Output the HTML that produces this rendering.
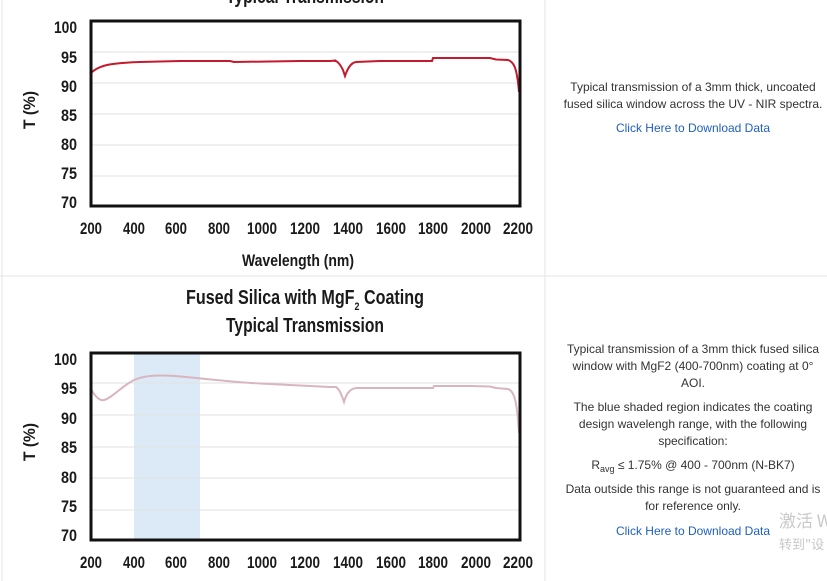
<!DOCTYPE html>
<html><head><meta charset="utf-8"><style>
html,body{margin:0;padding:0;background:#fff;}
svg{display:block}
.c{font-family:"Liberation Sans",sans-serif;font-weight:bold;fill:#1a1a1a}
.t{font-family:"Liberation Sans",sans-serif;font-size:12px;fill:#333}
.l{font-family:"Liberation Sans",sans-serif;font-size:12px;fill:#1f5fbf}
</style></head><body>
<svg width="827" height="581" viewBox="0 0 827 581" xmlns="http://www.w3.org/2000/svg">
<rect width="827" height="581" fill="#fff"/>
<line x1="2" y1="0" x2="2" y2="581" stroke="#e4e4e4"/>
<line x1="545" y1="0" x2="545" y2="581" stroke="#e4e4e4"/>
<line x1="0" y1="276" x2="827" y2="276" stroke="#e4e4e4"/>

<!-- Chart 1 -->
<text class="c" x="226" y="3" font-size="20" textLength="158" lengthAdjust="spacingAndGlyphs">Typical Transmission</text>
<g stroke="#e2e2e2" stroke-width="1">
<line x1="90" x2="520" y1="52" y2="52"/><line x1="90" x2="520" y1="83" y2="83"/>
<line x1="90" x2="520" y1="114" y2="114"/><line x1="90" x2="520" y1="145" y2="145"/>
<line x1="90" x2="520" y1="176" y2="176"/>
</g>
<path d="M91,73 C100,64 115,63 140,62 L180,61 L230,61 L234,62 L300,61 L330,61 L336,60.5 L334,61 L336,61 C338,62 340,64 343,70 L345,76 C347,70 350,63 356,62 L380,61 L432,61 L433,58 L470,58 L490,58 L496,59.5 L508,60 C514,62 517,68 519,92" fill="none" stroke="#c41a2e" stroke-width="2"/>
<rect x="91" y="21" width="429" height="185" fill="none" stroke="#111" stroke-width="3"/>
<g class="c" font-size="17">
<text x="54" y="33" textLength="23" lengthAdjust="spacingAndGlyphs">100</text>
<text x="61" y="63" textLength="16" lengthAdjust="spacingAndGlyphs">95</text>
<text x="61" y="92" textLength="16" lengthAdjust="spacingAndGlyphs">90</text>
<text x="61" y="121" textLength="16" lengthAdjust="spacingAndGlyphs">85</text>
<text x="61" y="150" textLength="16" lengthAdjust="spacingAndGlyphs">80</text>
<text x="61" y="179" textLength="16" lengthAdjust="spacingAndGlyphs">75</text>
<text x="61" y="208" textLength="16" lengthAdjust="spacingAndGlyphs">70</text>
</g>
<g class="c" font-size="17">
<text x="80" y="234" textLength="22" lengthAdjust="spacingAndGlyphs">200</text>
<text x="123" y="234" textLength="22" lengthAdjust="spacingAndGlyphs">400</text>
<text x="165" y="234" textLength="22" lengthAdjust="spacingAndGlyphs">600</text>
<text x="208" y="234" textLength="22" lengthAdjust="spacingAndGlyphs">800</text>
<text x="247" y="234" textLength="30" lengthAdjust="spacingAndGlyphs">1000</text>
<text x="290" y="234" textLength="30" lengthAdjust="spacingAndGlyphs">1200</text>
<text x="333" y="234" textLength="30" lengthAdjust="spacingAndGlyphs">1400</text>
<text x="376" y="234" textLength="30" lengthAdjust="spacingAndGlyphs">1600</text>
<text x="418" y="234" textLength="30" lengthAdjust="spacingAndGlyphs">1800</text>
<text x="461" y="234" textLength="30" lengthAdjust="spacingAndGlyphs">2000</text>
<text x="503" y="234" textLength="30" lengthAdjust="spacingAndGlyphs">2200</text>
</g>
<text class="c" x="242" y="266" font-size="17" textLength="112" lengthAdjust="spacingAndGlyphs">Wavelength (nm)</text>
<text class="c" font-size="17" transform="translate(35,129) rotate(-90)" textLength="38" lengthAdjust="spacingAndGlyphs">T (%)</text>

<!-- Chart 2 -->
<text class="c" x="186" y="304" font-size="20" textLength="238" lengthAdjust="spacingAndGlyphs">Fused Silica with MgF<tspan font-size="11" dy="6">2</tspan><tspan dy="-6"> Coating</tspan></text>
<text class="c" x="226" y="332" font-size="20" textLength="158" lengthAdjust="spacingAndGlyphs">Typical Transmission</text>
<rect x="134" y="353" width="66" height="187" fill="#dce9f6"/>
<g stroke="#e2e2e2" stroke-width="1">
<line x1="90" x2="520" y1="383" y2="383"/><line x1="90" x2="520" y1="415" y2="415"/>
<line x1="90" x2="520" y1="447" y2="447"/><line x1="90" x2="520" y1="478" y2="478"/>
<line x1="90" x2="520" y1="510" y2="510"/>
</g>
<path d="M91,389 C96,398 100,401 104,400 C112,398 122,386 134,380 C145,375 160,375 175,376 C200,378 230,382 260,383.5 C290,385 310,386 330,387 L336,387 C339,389 341,393 344,402 C346,395 349,389 356,388 L433,388 L434,386 L470,386 L490,386.5 L496,388 L508,389 C514,391 517,400 519,433" fill="none" stroke="#d9b5be" stroke-width="2"/>
<rect x="91" y="353" width="429" height="187" fill="none" stroke="#111" stroke-width="3"/>
<g class="c" font-size="17">
<text x="54" y="365" textLength="23" lengthAdjust="spacingAndGlyphs">100</text>
<text x="61" y="394" textLength="16" lengthAdjust="spacingAndGlyphs">95</text>
<text x="61" y="424" textLength="16" lengthAdjust="spacingAndGlyphs">90</text>
<text x="61" y="453" textLength="16" lengthAdjust="spacingAndGlyphs">85</text>
<text x="61" y="483" textLength="16" lengthAdjust="spacingAndGlyphs">80</text>
<text x="61" y="512" textLength="16" lengthAdjust="spacingAndGlyphs">75</text>
<text x="61" y="541" textLength="16" lengthAdjust="spacingAndGlyphs">70</text>
</g>
<g class="c" font-size="17">
<text x="80" y="568" textLength="22" lengthAdjust="spacingAndGlyphs">200</text>
<text x="123" y="568" textLength="22" lengthAdjust="spacingAndGlyphs">400</text>
<text x="165" y="568" textLength="22" lengthAdjust="spacingAndGlyphs">600</text>
<text x="208" y="568" textLength="22" lengthAdjust="spacingAndGlyphs">800</text>
<text x="247" y="568" textLength="30" lengthAdjust="spacingAndGlyphs">1000</text>
<text x="290" y="568" textLength="30" lengthAdjust="spacingAndGlyphs">1200</text>
<text x="333" y="568" textLength="30" lengthAdjust="spacingAndGlyphs">1400</text>
<text x="376" y="568" textLength="30" lengthAdjust="spacingAndGlyphs">1600</text>
<text x="418" y="568" textLength="30" lengthAdjust="spacingAndGlyphs">1800</text>
<text x="461" y="568" textLength="30" lengthAdjust="spacingAndGlyphs">2000</text>
<text x="503" y="568" textLength="30" lengthAdjust="spacingAndGlyphs">2200</text>
</g>
<text class="c" font-size="17" transform="translate(35,461) rotate(-90)" textLength="38" lengthAdjust="spacingAndGlyphs">T (%)</text>

<!-- Right text -->
<g text-anchor="middle">
<text class="t" x="693" y="91">Typical transmission of a 3mm thick, uncoated</text>
<text class="t" x="693" y="108">fused silica window across the UV - NIR spectra.</text>
<text class="l" x="693" y="132">Click Here to Download Data</text>
<text class="t" x="693" y="353">Typical transmission of a 3mm thick fused silica</text>
<text class="t" x="693" y="370">window with MgF2 (400-700nm) coating at 0°</text>
<text class="t" x="693" y="387">AOI.</text>
<text class="t" x="693" y="411">The blue shaded region indicates the coating</text>
<text class="t" x="693" y="428">design wavelengh range, with the following</text>
<text class="t" x="693" y="445">specification:</text>
<text class="t" x="693" y="469">R<tspan font-size="9" dy="3">avg</tspan><tspan dy="-3"> ≤ 1.75% @ 400 - 700nm (N-BK7)</tspan></text>
<text class="t" x="693" y="493">Data outside this range is not guaranteed and is</text>
<text class="t" x="693" y="510">for reference only.</text>
<text class="l" x="693" y="535">Click Here to Download Data</text>
</g>
<text x="779" y="527" font-family="'Noto Sans CJK SC',sans-serif" font-size="17" fill="#c8c8c8">激活 W</text>
<text x="779" y="549" font-family="'Noto Sans CJK SC',sans-serif" font-size="13" fill="#c8c8c8">转到"设</text>
</svg>
</body></html>
